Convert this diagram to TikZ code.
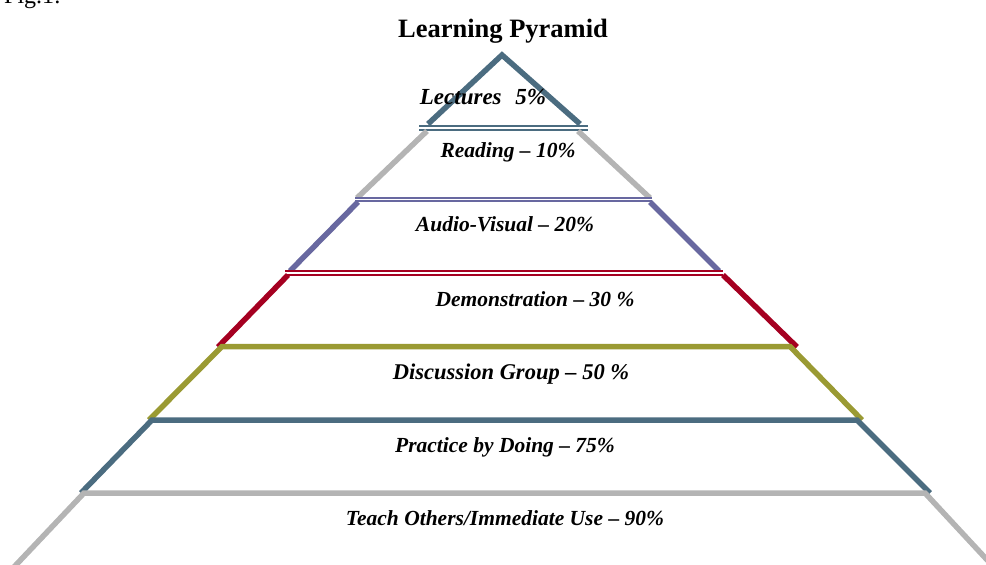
\documentclass[tikz,border=0pt]{standalone}
\usepackage{fontspec}
\setmainfont{Liberation Serif}
\definecolor{pyrslate}{HTML}{4B6C80}
\definecolor{pyrgray}{HTML}{B4B4B4}
\definecolor{pyrpurple}{HTML}{6868A0}
\definecolor{pyrred}{HTML}{A50021}
\definecolor{pyrolive}{HTML}{9A9A33}

\begin{document}
\begin{tikzpicture}[x=1pt,y=-1pt,
		edge/.style={line width=5.5pt, line join=miter},
		rim/.style={line width=1.8pt, double=white, double distance=1.6pt},
		lbl/.style={font=\fontsize{21.5}{24}\selectfont\bfseries\itshape, anchor=base, inner sep=0pt}]
			%%%%% START %%%%%
			\useasboundingbox (0,0) rectangle (986,565);
			
			\node[anchor=base west, inner sep=0pt, font=\fontsize{24}{28}\selectfont] (fig) at (4,3.5) {Fig.1:};
			\node[anchor=base, inner sep=0pt, font=\fontsize{26.5}{30}\selectfont\bfseries] (title) at (503,37) {Learning Pyramid};
			
			% top triangle
			\draw[edge, pyrslate] (428,124) -- (502,55) -- (580,124);
			\draw[rim, pyrslate] (419,128) -- (588,128);
			
			% reading
			\draw[edge, pyrgray] (427,131) -- (357,198);
			\draw[edge, pyrgray] (578,131) -- (650,198);
			
			% audio-visual
			\draw[rim, pyrpurple] (355,199.5) -- (652,199.5);
			\draw[edge, pyrpurple] (358,202) -- (290,271);
			\draw[edge, pyrpurple] (650,202) -- (719,271);
			
			% demonstration
			\draw[rim, pyrred] (285,273) -- (723,273);
			\draw[edge, pyrred] (288,275) -- (218,347);
			\draw[edge, pyrred] (723,275) -- (797,347);
			
			% discussion group
			\draw[edge, pyrolive] (149,420) -- (222,346.5) -- (790,346.5) -- (862,420);
			
			% practice by doing
			\draw[edge, pyrslate] (81,493) -- (152,420) -- (857,420) -- (930,493);
			
			% teach others
			\draw[edge, pyrgray] (14,567) -- (84,493) -- (925,493) -- (990,563);
			
			\node[lbl, font=\fontsize{23}{26}\selectfont\bfseries\itshape] (lectures) at (483,104) {Lectures\hspace{0.6em}5\%};
			\node[lbl] (reading) at (508,157) {Reading -- 10\%};
			\node[lbl] (audiovisual) at (505,231) {Audio-Visual -- 20\%};
			\node[lbl] (demo) at (535,306) {Demonstration -- 30 \%};
			\node[lbl, font=\fontsize{22.5}{25}\selectfont\bfseries\itshape] (discussion) at (511,379) {Discussion Group -- 50 \%};
			\node[lbl] (practice) at (505,452) {Practice by Doing -- 75\%};
			\node[lbl] (teach) at (505,525) {Teach Others/Immediate Use -- 90\%};
			
			%%%%% END %%%%%
		\end{tikzpicture}
\end{document}
